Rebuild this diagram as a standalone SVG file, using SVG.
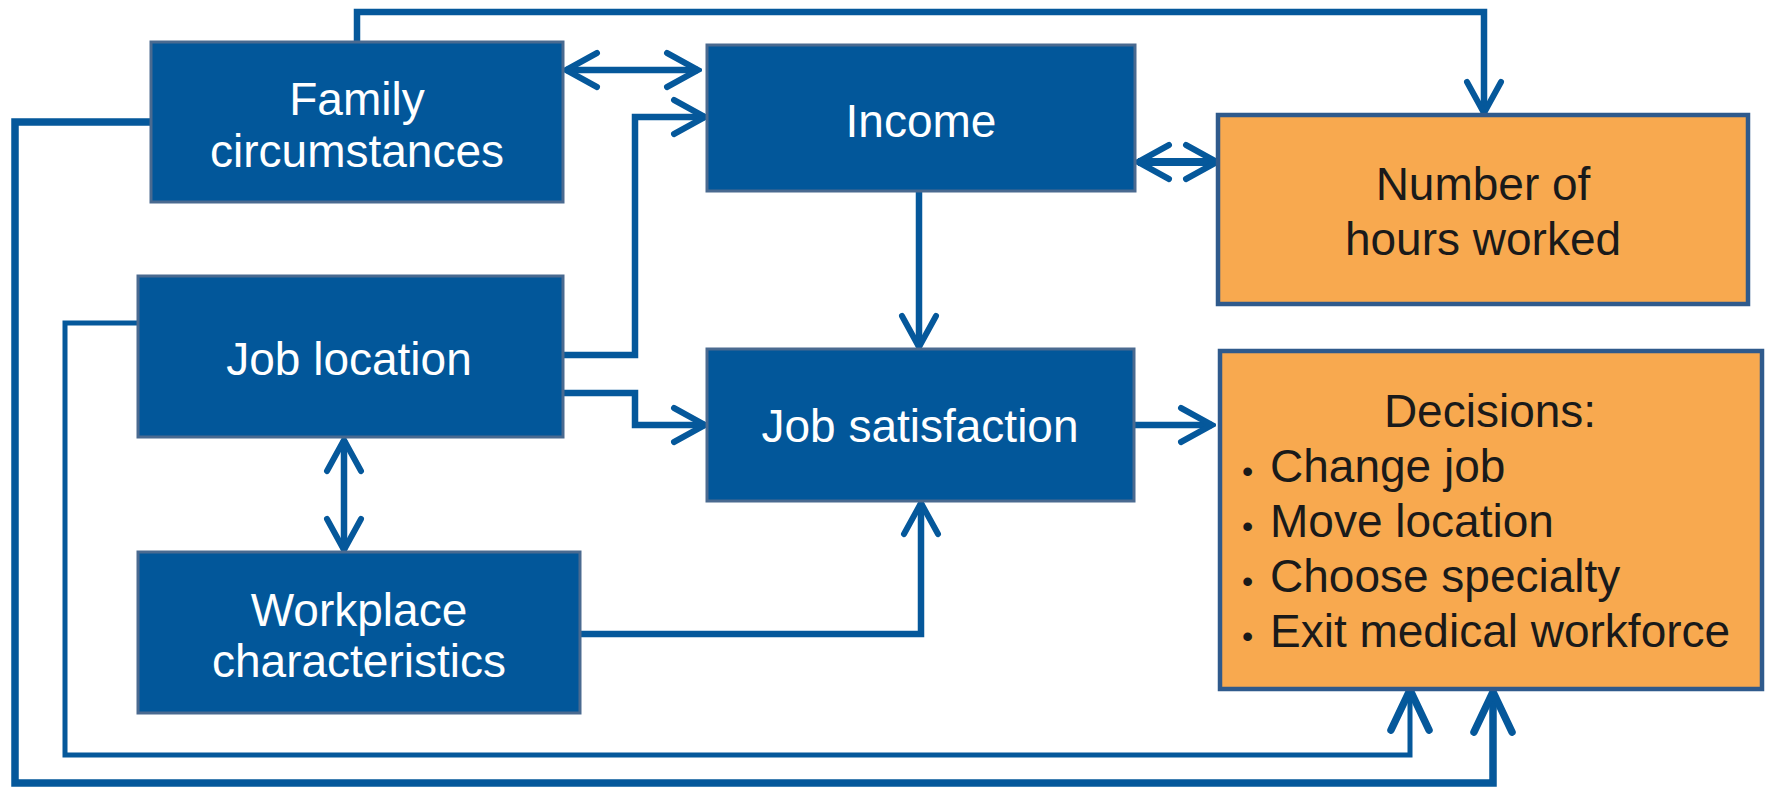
<svg xmlns="http://www.w3.org/2000/svg" width="1767" height="789" viewBox="0 0 1767 789">
<defs>
<style>
.bn{fill:#02579A;stroke:#4A6A90;stroke-width:3}
.on{fill:#F8A94F;stroke:#2F5A8C;stroke-width:4.5}
.wt{fill:#FFFFFF;font-family:"Liberation Sans",Arial,sans-serif;font-size:46px;text-anchor:middle}
.dt{fill:#1A1A1A;font-family:"Liberation Sans",Arial,sans-serif;font-size:46px}
.c{fill:none;stroke:#05589B;stroke-width:6.5;stroke-linejoin:miter}
</style>
<marker id="a" markerUnits="userSpaceOnUse" viewBox="-40 -22 44 44" refX="0" refY="0" markerWidth="44" markerHeight="44" orient="auto-start-reverse">
<path d="M-31,-17 L0,0 L-31,17" fill="none" stroke="#05589B" stroke-width="6" stroke-linecap="round" stroke-linejoin="miter"/>
</marker>
<marker id="b" markerUnits="userSpaceOnUse" viewBox="-48 -26 52 52" refX="0" refY="0" markerWidth="52" markerHeight="52" orient="auto-start-reverse">
<path d="M-40,-19 L0,0 L-40,19" fill="none" stroke="#05589B" stroke-width="7.5" stroke-linecap="round" stroke-linejoin="miter"/>
</marker>
</defs>
<rect width="1767" height="789" fill="#FFFFFF"/>
<g id="connectors">
<path class="c" d="M357,42 V12 H1484 V113" marker-end="url(#a)"/>
<path class="c" style="stroke-width:7.5" d="M151,122 H15 V783 H1493 V692" marker-end="url(#b)"/>
<path class="c" d="M566,70 H698" marker-start="url(#a)" marker-end="url(#a)"/>
<path class="c" d="M563,355 H635 V117 H705" marker-end="url(#a)"/>
<path class="c" d="M563,393 H635 V425 H705" marker-end="url(#a)"/>
<path class="c" style="stroke-width:5" d="M138,323 H65 V755 H1410 V690" marker-end="url(#b)"/>
<path class="c" d="M344,440 V550" marker-start="url(#a)" marker-end="url(#a)"/>
<path class="c" d="M919,191 V347" marker-end="url(#a)"/>
<path class="c" style="stroke-width:8" d="M1138,162 H1217" marker-start="url(#a)" marker-end="url(#a)"/>
<path class="c" d="M580,634 H921 V503" marker-end="url(#a)"/>
<path class="c" d="M1134,425 H1212" marker-end="url(#a)"/>
</g>
<g id="family">
<rect class="bn" x="151" y="42" width="412" height="160"/>
<text class="wt" x="357" y="115">Family</text>
<text class="wt" x="357" y="167">circumstances</text>
</g>
<g id="income">
<rect class="bn" x="707" y="45" width="428" height="146"/>
<text class="wt" x="921" y="137">Income</text>
</g>
<g id="hours">
<rect class="on" x="1218" y="115" width="530" height="189"/>
<text class="dt" x="1483" y="200" text-anchor="middle">Number of</text>
<text class="dt" x="1483" y="255" text-anchor="middle">hours worked</text>
</g>
<g id="joblocation">
<rect class="bn" x="138" y="276" width="425" height="161"/>
<text class="wt" x="349" y="375">Job location</text>
</g>
<g id="jobsatisfaction">
<rect class="bn" x="707" y="349" width="427" height="152"/>
<text class="wt" x="920" y="442">Job satisfaction</text>
</g>
<g id="workplace">
<rect class="bn" x="138" y="552" width="442" height="161"/>
<text class="wt" x="359" y="626">Workplace</text>
<text class="wt" x="359" y="677">characteristics</text>
</g>
<g id="decisions">
<rect class="on" x="1220" y="351" width="542" height="338"/>
<text class="dt" x="1490" y="427" text-anchor="middle">Decisions:</text>
<text class="dt" x="1242" y="482"><tspan font-size="32">•</tspan><tspan x="1270">Change job</tspan></text>
<text class="dt" x="1242" y="537"><tspan font-size="32">•</tspan><tspan x="1270">Move location</tspan></text>
<text class="dt" x="1242" y="592"><tspan font-size="32">•</tspan><tspan x="1270">Choose specialty</tspan></text>
<text class="dt" x="1242" y="647"><tspan font-size="32">•</tspan><tspan x="1270">Exit medical workforce</tspan></text>
</g>
</svg>
